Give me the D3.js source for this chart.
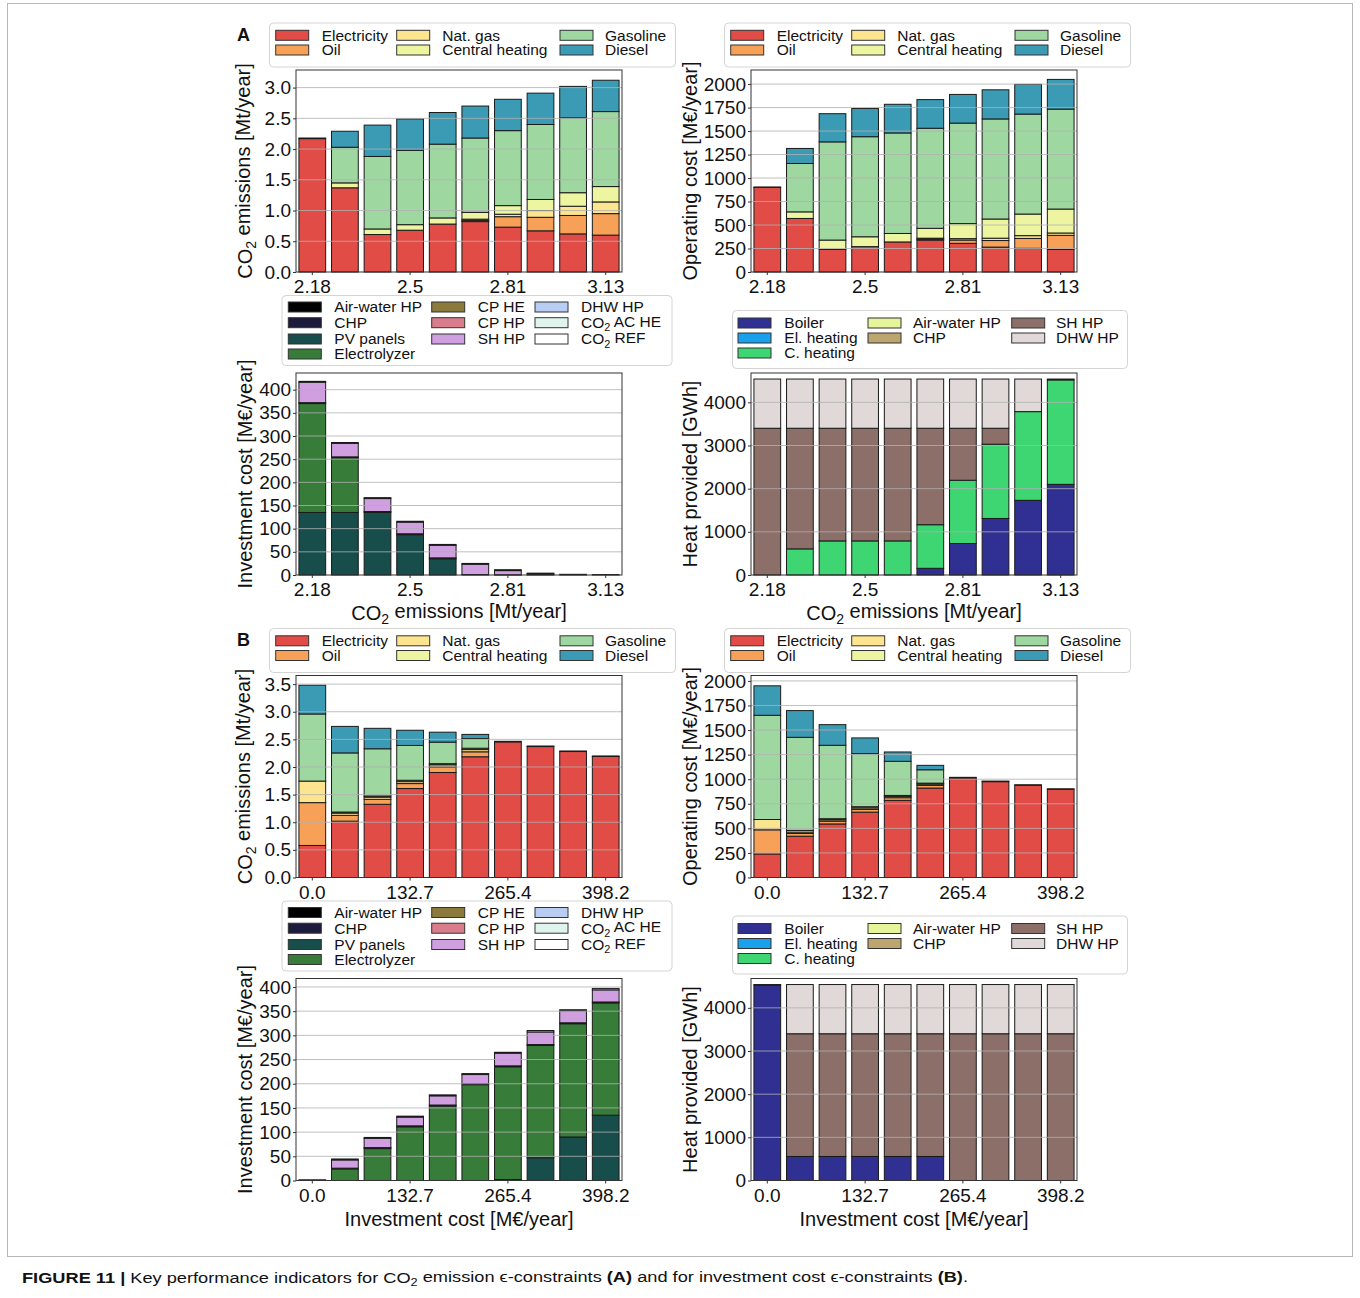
<!DOCTYPE html>
<html><head><meta charset="utf-8">
<script src="https://cdn.jsdelivr.net/npm/d3@7"></script>
<style>
body{margin:0;background:#fff;}
text{font-family:"Liberation Sans",Arial,Helvetica,sans-serif;fill:#111;}
</style></head><body>
<svg id="chart" width="1360" height="1298"></svg>
<script>
// ---------------- DATA ----------------
const xLabelsA = ["2.18","2.29","2.39","2.5","2.6","2.71","2.81","2.92","3.02","3.13"];
const xLabelsB = ["0.0","44.2","88.5","132.7","176.9","221.2","265.4","309.7","353.9","398.2"];
const xTickIdx = [0,3,6,9];

const energyNames = ["Electricity","Oil","Nat. gas","Central heating","Gasoline","Diesel"];
const energyColors = ["#e14c47","#f6a157","#fde48e","#eef5a0","#9fd7a1","#3c9bb4"];

const techNames = ["Air-water HP","CHP","PV panels","Electrolyzer","CP HE","CP HP","SH HP","DHW HP","CO2 AC HE","CO2 REF"];
const techColors = ["#000000","#1c1a3d","#174e4b","#377c39","#8c7a3c","#d97d8c","#cf9fe0","#b9cdf2","#dff4ec","#ffffff"];

const heatNames = ["Boiler","El. heating","C. heating","Air-water HP","CHP","SH HP","DHW HP"];
const heatColors = ["#302f92","#1ba0ec","#3ed672","#e6f59c","#bca56e","#8b6f68","#e1d8d8"];

// A: CO2 emission epsilon-constraints
// CO2 emissions [Mt/year] per energy carrier
const co2A_electricity = [2.17,1.37,0.61,0.68,0.78,0.82,0.73,0.67,0.62,0.60];
const co2A_oil         = [0,0,0,0,0,0.02,0.17,0.22,0.30,0.35];
const co2A_natgas      = [0,0,0,0,0,0.02,0.04,0.11,0.15,0.19];
const co2A_central     = [0.01,0.08,0.09,0.09,0.10,0.11,0.14,0.18,0.22,0.25];
const co2A_gasoline    = [0,0.58,1.18,1.21,1.20,1.21,1.22,1.22,1.22,1.22];
const co2A_diesel      = [0,0.26,0.51,0.51,0.515,0.52,0.51,0.51,0.51,0.51];
// Operating cost [M€/year]
const opA_electricity = [900,570,240,270,320,340,305,265,252,240];
const opA_oil         = [0,0,0,0,0,10,35,70,105,150];
const opA_natgas      = [0,0,0,0,0,10,15,25,30,25];
const opA_central     = [5,70,100,105,90,105,160,204,230,255];
const opA_gasoline    = [0,515,1045,1065,1070,1065,1070,1065,1064,1064];
const opA_diesel      = [0,160,300,300,305,305,305,310,316,316];
// Investment cost [M€/year]
const invA_airwater = [0,0,0,0,0,0,0,0,0,0];
const invA_chp      = [0,0,0,0,0,0,0,0,0,0];
const invA_pv       = [135,135,135,87,35,0,0,0,0,0];
const invA_electro  = [235,118,0,0,0,0,0,0,0,0];
const invA_cphe     = [2,2,2,2,2,1,0.5,1.5,0,0];
const invA_cphp     = [0,0,0,0,0,0,0,0,0,0];
const invA_shhp     = [44,29,28,25,27,22,9,1,0,0];
const invA_dhwhp    = [2,2,2,2,2,2,2,1.5,1.5,1];
const invA_co2ache  = [0,0,0,0,0,0,0,0,0,0];
const invA_co2ref   = [0,0,0,0,0,0,0,0,0,0];
// Heat provided [GWh]
const heatA_boiler   = [0,0,0,0,0,155,730,1310,1730,2100];
const heatA_elheat   = [0,0,0,0,0,0,0,0,0,0];
const heatA_cheat    = [0,605,790,790,790,1010,1465,1720,2055,2420];
const heatA_airwater = [0,0,0,0,0,0,0,0,0,0];
const heatA_chp      = [0,0,0,0,0,0,0,0,0,0];
const heatA_shhp     = [3400,2795,2610,2610,2610,2235,1205,370,0,0];
const heatA_dhwhp    = [1140,1140,1140,1140,1140,1140,1140,1140,755,20];

// B: investment cost epsilon-constraints
const co2B_electricity = [0.58,1.02,1.325,1.61,1.90,2.185,2.455,2.37,2.28,2.19];
const co2B_oil         = [0.775,0.105,0.09,0.09,0.10,0.09,0,0,0,0];
const co2B_natgas      = [0.39,0.04,0.04,0.035,0.04,0.04,0.01,0.01,0.01,0.01];
const co2B_central     = [0,0.02,0.02,0.025,0.02,0.025,0,0,0,0];
const co2B_gasoline    = [1.215,1.07,0.855,0.63,0.39,0.175,0,0,0,0];
const co2B_diesel      = [0.52,0.48,0.37,0.275,0.18,0.075,0,0,0,0];

const opB_electricity = [240,420,545,665,785,910,1012,975,937,896];
const opB_oil         = [245,28,28,28,27,27,0,0,0,0];
const opB_natgas      = [105,14,14,15,13,13,7,6,7,7];
const opB_central     = [0,17,11,12,10,10,0,0,0,0];
const opB_gasoline    = [1060,947,747,540,347,136,0,0,0,0];
const opB_diesel      = [300,272,210,160,95,45,0,0,0,0];

const invB_airwater = [0,0,0,0,0,0,0,0,0,0];
const invB_chp      = [0,0,0,0,0,0,0,0,0,0];
const invB_pv       = [0,0,0,0,0,0,2,47,90,135];
const invB_electro  = [0,24,66,111,154,198,233,232,234,232];
const invB_cphe     = [0,1.5,2,2,2,2,2,2,2,2];
const invB_cphp     = [0,0,0,0,0,0,0,0,0,0];
const invB_shhp     = [0,17,19,18,19,19,26,26,25,25];
const invB_dhwhp    = [1.5,2,2,2,2,2,2,3,2,3];
const invB_co2ache  = [0,0,0,0,0,0,0,0,0,0];
const invB_co2ref   = [0,0,0,0,0,0,0,0,0,0];

const heatB_boiler   = [4530,557,557,557,557,557,0,0,0,0];
const heatB_elheat   = [0,0,0,0,0,0,0,0,0,0];
const heatB_cheat    = [0,0,0,0,0,0,0,0,0,0];
const heatB_airwater = [0,0,0,0,0,0,0,0,0,0];
const heatB_chp      = [0,0,0,0,0,0,0,0,0,0];
const heatB_shhp     = [0,2843,2843,2843,2843,2843,3400,3400,3400,3400];
const heatB_dhwhp    = [10,1140,1140,1140,1140,1140,1140,1140,1140,1140];

const co2Ticks = [0,0.5,1.0,1.5,2.0,2.5,3.0];
const co2TicksB = [0,0.5,1.0,1.5,2.0,2.5,3.0,3.5];
const opTicks = [0,250,500,750,1000,1250,1500,1750,2000];
const invTicks = [0,50,100,150,200,250,300,350,400];
const heatTicks = [0,1000,2000,3000,4000];

// ---------------- DRAWING ----------------
const svg = d3.select("#chart");
const FONT = '"Liberation Sans",Arial,Helvetica,sans-serif';
const W = 326, H = 202;
const XL = 296, XR = 751;
const DY_B = 605.5;

function richText(sel, parts){
  parts.forEach((p, i) => {
    const t = sel.append("tspan").text(p[0]);
    if (p[1]) { t.attr("font-size","0.7em").attr("dy","0.3em"); }
    else if (i > 0 && parts[i-1][1]) { t.attr("dy","-0.3em"); }
  });
}
function labelParts(s){
  if (s.startsWith("CO2")) return [["CO",false],["2",true],[s.slice(3),false]];
  return [[s,false]];
}

// border
svg.append("rect").attr("x",7.5).attr("y",3.5).attr("width",1345).attr("height",1253)
  .attr("fill","none").attr("stroke","#b8b8b8").attr("stroke-width",1);

function panel(cfg){
  const g = svg.append("g");
  const x = d3.scaleBand().domain(d3.range(10)).range([cfg.x0, cfg.x0 + W]).paddingInner(0.18).paddingOuter(0.09);
  const y = d3.scaleLinear().domain([0, cfg.yMax]).range([cfg.y0 + H, cfg.y0]);
  const rows = d3.range(10).map(i => { const o = {idx:i}; cfg.series.forEach((s,k) => o["s"+k] = s[i]); return o; });
  const keys = cfg.series.map((s,k) => "s"+k);
  const stacked = d3.stack().keys(keys)(rows);
  stacked.forEach((layer, k) => {
    g.append("g").selectAll("rect").data(layer.filter(d => d[1] - d[0] > 0)).enter().append("rect")
      .attr("x", d => x(d.data.idx)).attr("width", x.bandwidth())
      .attr("y", d => y(d[1])).attr("height", d => y(d[0]) - y(d[1]))
      .attr("fill", cfg.colors[k]).attr("stroke", "#1a1a1a").attr("stroke-width", 1);
  });
  g.append("g").selectAll("line").data(cfg.ticks.filter(t => t > 0)).enter().append("line")
    .attr("x1", cfg.x0).attr("x2", cfg.x0 + W)
    .attr("y1", d => y(d)).attr("y2", d => y(d))
    .attr("stroke", "#b0b0b0").attr("stroke-width", 1).attr("stroke-opacity", 0.8);
  g.append("rect").attr("x", cfg.x0).attr("y", cfg.y0).attr("width", W).attr("height", H)
    .attr("fill","none").attr("stroke","#333").attr("stroke-width",1);
  const ya = g.append("g").attr("transform", `translate(${cfg.x0},0)`)
    .call(d3.axisLeft(y).tickValues(cfg.ticks).tickFormat(cfg.fmt).tickSize(3).tickPadding(2).tickSizeOuter(0));
  ya.select(".domain").remove();
  ya.attr("font-size", 19).attr("font-family", FONT);
  ya.selectAll("text").attr("fill","#111");
  ya.selectAll("line").attr("stroke","#333");
  const xa = g.append("g").attr("transform", `translate(0,${cfg.y0 + H})`)
    .call(d3.axisBottom(x).tickValues(xTickIdx).tickFormat(i => cfg.xLabels[i]).tickSize(3).tickPadding(5).tickSizeOuter(0));
  xa.select(".domain").remove();
  xa.attr("font-size", 19).attr("font-family", FONT);
  xa.selectAll("text").attr("fill","#111");
  xa.selectAll("line").attr("stroke","#333");
  const yl = g.append("text").attr("transform", `translate(${cfg.ylabX},${cfg.y0 + H/2}) rotate(-90)`)
    .attr("text-anchor","middle").attr("dy","0.35em").attr("font-size",20);
  richText(yl, cfg.yLabel);
  if (cfg.xLabel){
    const xl = g.append("text").attr("x", cfg.x0 + W/2).attr("y", cfg.y0 + H + 45)
      .attr("text-anchor","middle").attr("font-size",20);
    richText(xl, cfg.xLabel);
  }
}

function legend(box, names, colors, cols, rows, layout, dy){
  const g = svg.append("g").attr("transform", `translate(0,${dy})`);
  g.append("rect").attr("x", box[0]+0.5).attr("y", box[1]+0.5).attr("width", box[2]).attr("height", box[3])
    .attr("rx", 4).attr("fill", "#fff").attr("fill-opacity", 0.9).attr("stroke", "#d4d4d4");
  names.forEach((n, i) => {
    const c = layout[i][0], r = layout[i][1];
    const cy = rows[r];
    g.append("rect").attr("x", cols[c][0]).attr("y", cy - 5).attr("width", 33).attr("height", 10)
      .attr("fill", colors[i]).attr("stroke", "#333").attr("stroke-width", 1);
    const t = g.append("text").attr("x", cols[c][1]).attr("y", cy).attr("dy","0.35em").attr("font-size", 15.5);
    richText(t, labelParts(n));
  });
}

const co2Label = [["CO",false],["2",true],[" emissions [Mt/year]",false]];
const opLabel = [["Operating cost [M€/year]",false]];
const invLabel = [["Investment cost [M€/year]",false]];
const heatLabel = [["Heat provided [GWh]",false]];

const fmt1 = d3.format(".1f"), fmt0 = d3.format("d");

const energyLayout = [[0,0],[0,1],[1,0],[1,1],[2,0],[2,1]];
const techLayout = [[0,0],[0,1],[0,2],[0,3],[1,0],[1,1],[1,2],[2,0],[2,1],[2,2]];
const heatLayout = [[0,0],[0,1],[0,2],[1,0],[1,1],[2,0],[2,1]];

[0, 1].forEach(part => {
  const off = part * DY_B;
  const A = part === 0;
  const xLabels = A ? xLabelsA : xLabelsB;
  const xTitle = A ? co2Label : invLabel;
  panel({x0: XL, y0: 70 + off, yMax: A ? 3.2865 : 3.656, ticks: A ? co2Ticks : co2TicksB, fmt: fmt1,
    series: A ? [co2A_electricity,co2A_oil,co2A_natgas,co2A_central,co2A_gasoline,co2A_diesel]
              : [co2B_electricity,co2B_oil,co2B_natgas,co2B_central,co2B_gasoline,co2B_diesel],
    colors: energyColors, xLabels, yLabel: co2Label, ylabX: 245});
  panel({x0: XR, y0: 70 + off, yMax: A ? 2150 : 2055, ticks: opTicks, fmt: fmt0,
    series: A ? [opA_electricity,opA_oil,opA_natgas,opA_central,opA_gasoline,opA_diesel]
              : [opB_electricity,opB_oil,opB_natgas,opB_central,opB_gasoline,opB_diesel],
    colors: energyColors, xLabels, yLabel: opLabel, ylabX: 690});
  panel({x0: XL, y0: 373 + off, yMax: A ? 436 : 417.5, ticks: invTicks, fmt: fmt0,
    series: A ? [invA_airwater,invA_chp,invA_pv,invA_electro,invA_cphe,invA_cphp,invA_shhp,invA_dhwhp,invA_co2ache,invA_co2ref]
              : [invB_airwater,invB_chp,invB_pv,invB_electro,invB_cphe,invB_cphp,invB_shhp,invB_dhwhp,invB_co2ache,invB_co2ref],
    colors: techColors, xLabels, yLabel: invLabel, ylabX: 245, xLabel: xTitle});
  panel({x0: XR, y0: 373 + off, yMax: 4680, ticks: heatTicks, fmt: fmt0,
    series: A ? [heatA_boiler,heatA_elheat,heatA_cheat,heatA_airwater,heatA_chp,heatA_shhp,heatA_dhwhp]
              : [heatB_boiler,heatB_elheat,heatB_cheat,heatB_airwater,heatB_chp,heatB_shhp,heatB_dhwhp],
    colors: heatColors, xLabels, yLabel: heatLabel, ylabX: 690, xLabel: xTitle});

  const eCols = [[275.7,321.7],[396.7,442.3],[560,605]];
  legend([269, 22.5, 406, 44], energyNames, energyColors, eCols, [35.3, 50], energyLayout, off);
  legend([269 + 455, 22.5, 406, 44], energyNames, energyColors, eCols.map(c => [c[0]+455, c[1]+455]), [35.3, 50], energyLayout, off);
  legend([281.5, 295, 390, 70], techNames, techColors, [[288.3,334.3],[431.7,477.7],[535,581]], [307, 322.7, 339, 354], techLayout, off);
  legend([732, 310, 395, 58], heatNames, heatColors, [[738,784.3],[868,913],[1011.7,1056]], [323, 338, 353], heatLayout, off);

  svg.append("text").attr("x", 237).attr("y", 40.7 + off).attr("font-size", 18).attr("font-weight", "bold")
    .text(A ? "A" : "B");
});

// caption
const cap = svg.append("text").attr("x", 22).attr("y", 1283).attr("font-size", 15.5)
  .attr("textLength", 946).attr("lengthAdjust", "spacingAndGlyphs");
cap.append("tspan").attr("font-weight","bold").text("FIGURE 11 | ");
cap.append("tspan").text("Key performance indicators for CO");
cap.append("tspan").attr("font-size","0.7em").attr("dy","0.3em").text("2");
cap.append("tspan").attr("dy","-0.3em").text(" emission ϵ-constraints ");
cap.append("tspan").attr("font-weight","bold").text("(A)");
cap.append("tspan").text(" and for investment cost ϵ-constraints ");
cap.append("tspan").attr("font-weight","bold").text("(B)");
cap.append("tspan").text(".");
</script>
</body></html>
